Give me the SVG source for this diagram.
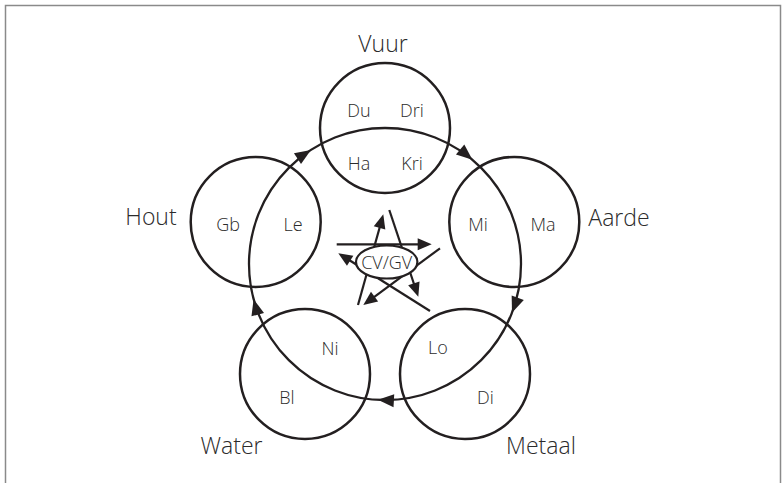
<svg xmlns="http://www.w3.org/2000/svg" xmlns:xlink="http://www.w3.org/1999/xlink" width="784" height="483" viewBox="0 0 784 483">
  <style>
    .frame { fill: none; stroke: #8a8a8a; stroke-width: 1.5; }
    .el { fill: none; stroke: #231f20; stroke-width: 2.5; }
    .cyc { fill: none; stroke: #231f20; stroke-width: 2.3; }
    .ln { fill: none; stroke: #231f20; stroke-width: 2.2; }
    .ah { fill: #231f20; stroke: none; }
    .big { font-family: "Open Sans", "Noto Sans", sans-serif; font-weight: 350; font-size: 23px; fill: #2b2b2b; text-anchor: middle; }
    .sm { font-family: "Open Sans", "Noto Sans", sans-serif; font-weight: 350; font-size: 18px; fill: #2b2b2b; text-anchor: middle; }
  </style>
  <defs>
    <path id="ah" d="M0,0 L-16,-6.5 L-16,6.5 Z"/>
    <path id="ahs" d="M0,0 L-14,-6 L-14,6 Z"/>
  </defs>
  <rect width="784" height="483" fill="#ffffff"/>
  <path class="frame" d="M5.5,490 V5.5 H780.5 V490"/>

  <g id="connectors">
    <circle class="cyc" cx="385" cy="264" r="136"/>
    <use href="#ah" class="ah" transform="translate(472.4,159.8) rotate(40)"/>
    <use href="#ah" class="ah" transform="translate(512.0,312.7) rotate(111)"/>
    <use href="#ah" class="ah" transform="translate(377.9,399.8) rotate(183)"/>
    <use href="#ah" class="ah" transform="translate(253.6,299.2) rotate(255)"/>
    <use href="#ah" class="ah" transform="translate(310.9,149.9) rotate(327)"/>
  </g>

  <g id="vuur">
    <circle class="el" cx="385" cy="128" r="65"/>
    <text class="big" x="383" y="52">Vuur</text>
    <text class="sm" x="359" y="117">Du</text>
    <text class="sm" x="412" y="117">Dri</text>
    <text class="sm" x="359" y="170">Ha</text>
    <text class="sm" x="412" y="170">Kri</text>
  </g>
  <g id="aarde">
    <circle class="el" cx="514.3" cy="222" r="65"/>
    <text class="big" x="619" y="226">Aarde</text>
    <text class="sm" x="478" y="231">Mi</text>
    <text class="sm" x="543" y="231">Ma</text>
  </g>
  <g id="metaal">
    <circle class="el" cx="465" cy="374" r="65"/>
    <text class="big" x="541" y="454">Metaal</text>
    <text class="sm" x="438" y="354">Lo</text>
    <text class="sm" x="485.5" y="404">Di</text>
  </g>
  <g id="water">
    <circle class="el" cx="305" cy="374" r="65"/>
    <text class="big" x="231.5" y="454">Water</text>
    <text class="sm" x="330" y="355">Ni</text>
    <text class="sm" x="287" y="404">Bl</text>
  </g>
  <g id="hout">
    <circle class="el" cx="255.7" cy="222" r="65"/>
    <text class="big" x="151" y="225">Hout</text>
    <text class="sm" x="228" y="231">Gb</text>
    <text class="sm" x="293" y="231">Le</text>
  </g>

  <g id="center">
    <g id="star">
      <line class="ln" x1="358" y1="305" x2="380.5" y2="224.5"/>
      <use href="#ahs" class="ah" transform="translate(383.3,214.3) rotate(-74.4)"/>
      <line class="ln" x1="389.3" y1="210" x2="415" y2="287"/>
      <use href="#ahs" class="ah" transform="translate(418.3,296.7) rotate(71.5)"/>
      <line class="ln" x1="336.7" y1="244.3" x2="421" y2="244.3"/>
      <use href="#ahs" class="ah" transform="translate(431.7,244.3) rotate(0)"/>
      <line class="ln" x1="440" y1="248.3" x2="372" y2="298.6"/>
      <use href="#ahs" class="ah" transform="translate(363.3,305) rotate(143.5)"/>
      <line class="ln" x1="430" y1="311" x2="347.5" y2="259"/>
      <use href="#ahs" class="ah" transform="translate(338.3,253.3) rotate(212.2)"/>
    </g>
    <ellipse cx="386.7" cy="262" rx="30.7" ry="16.5" fill="#ffffff" stroke="#231f20" stroke-width="2.2"/>
    <text class="sm" x="386.7" y="269">CV/GV</text>
  </g>
</svg>
